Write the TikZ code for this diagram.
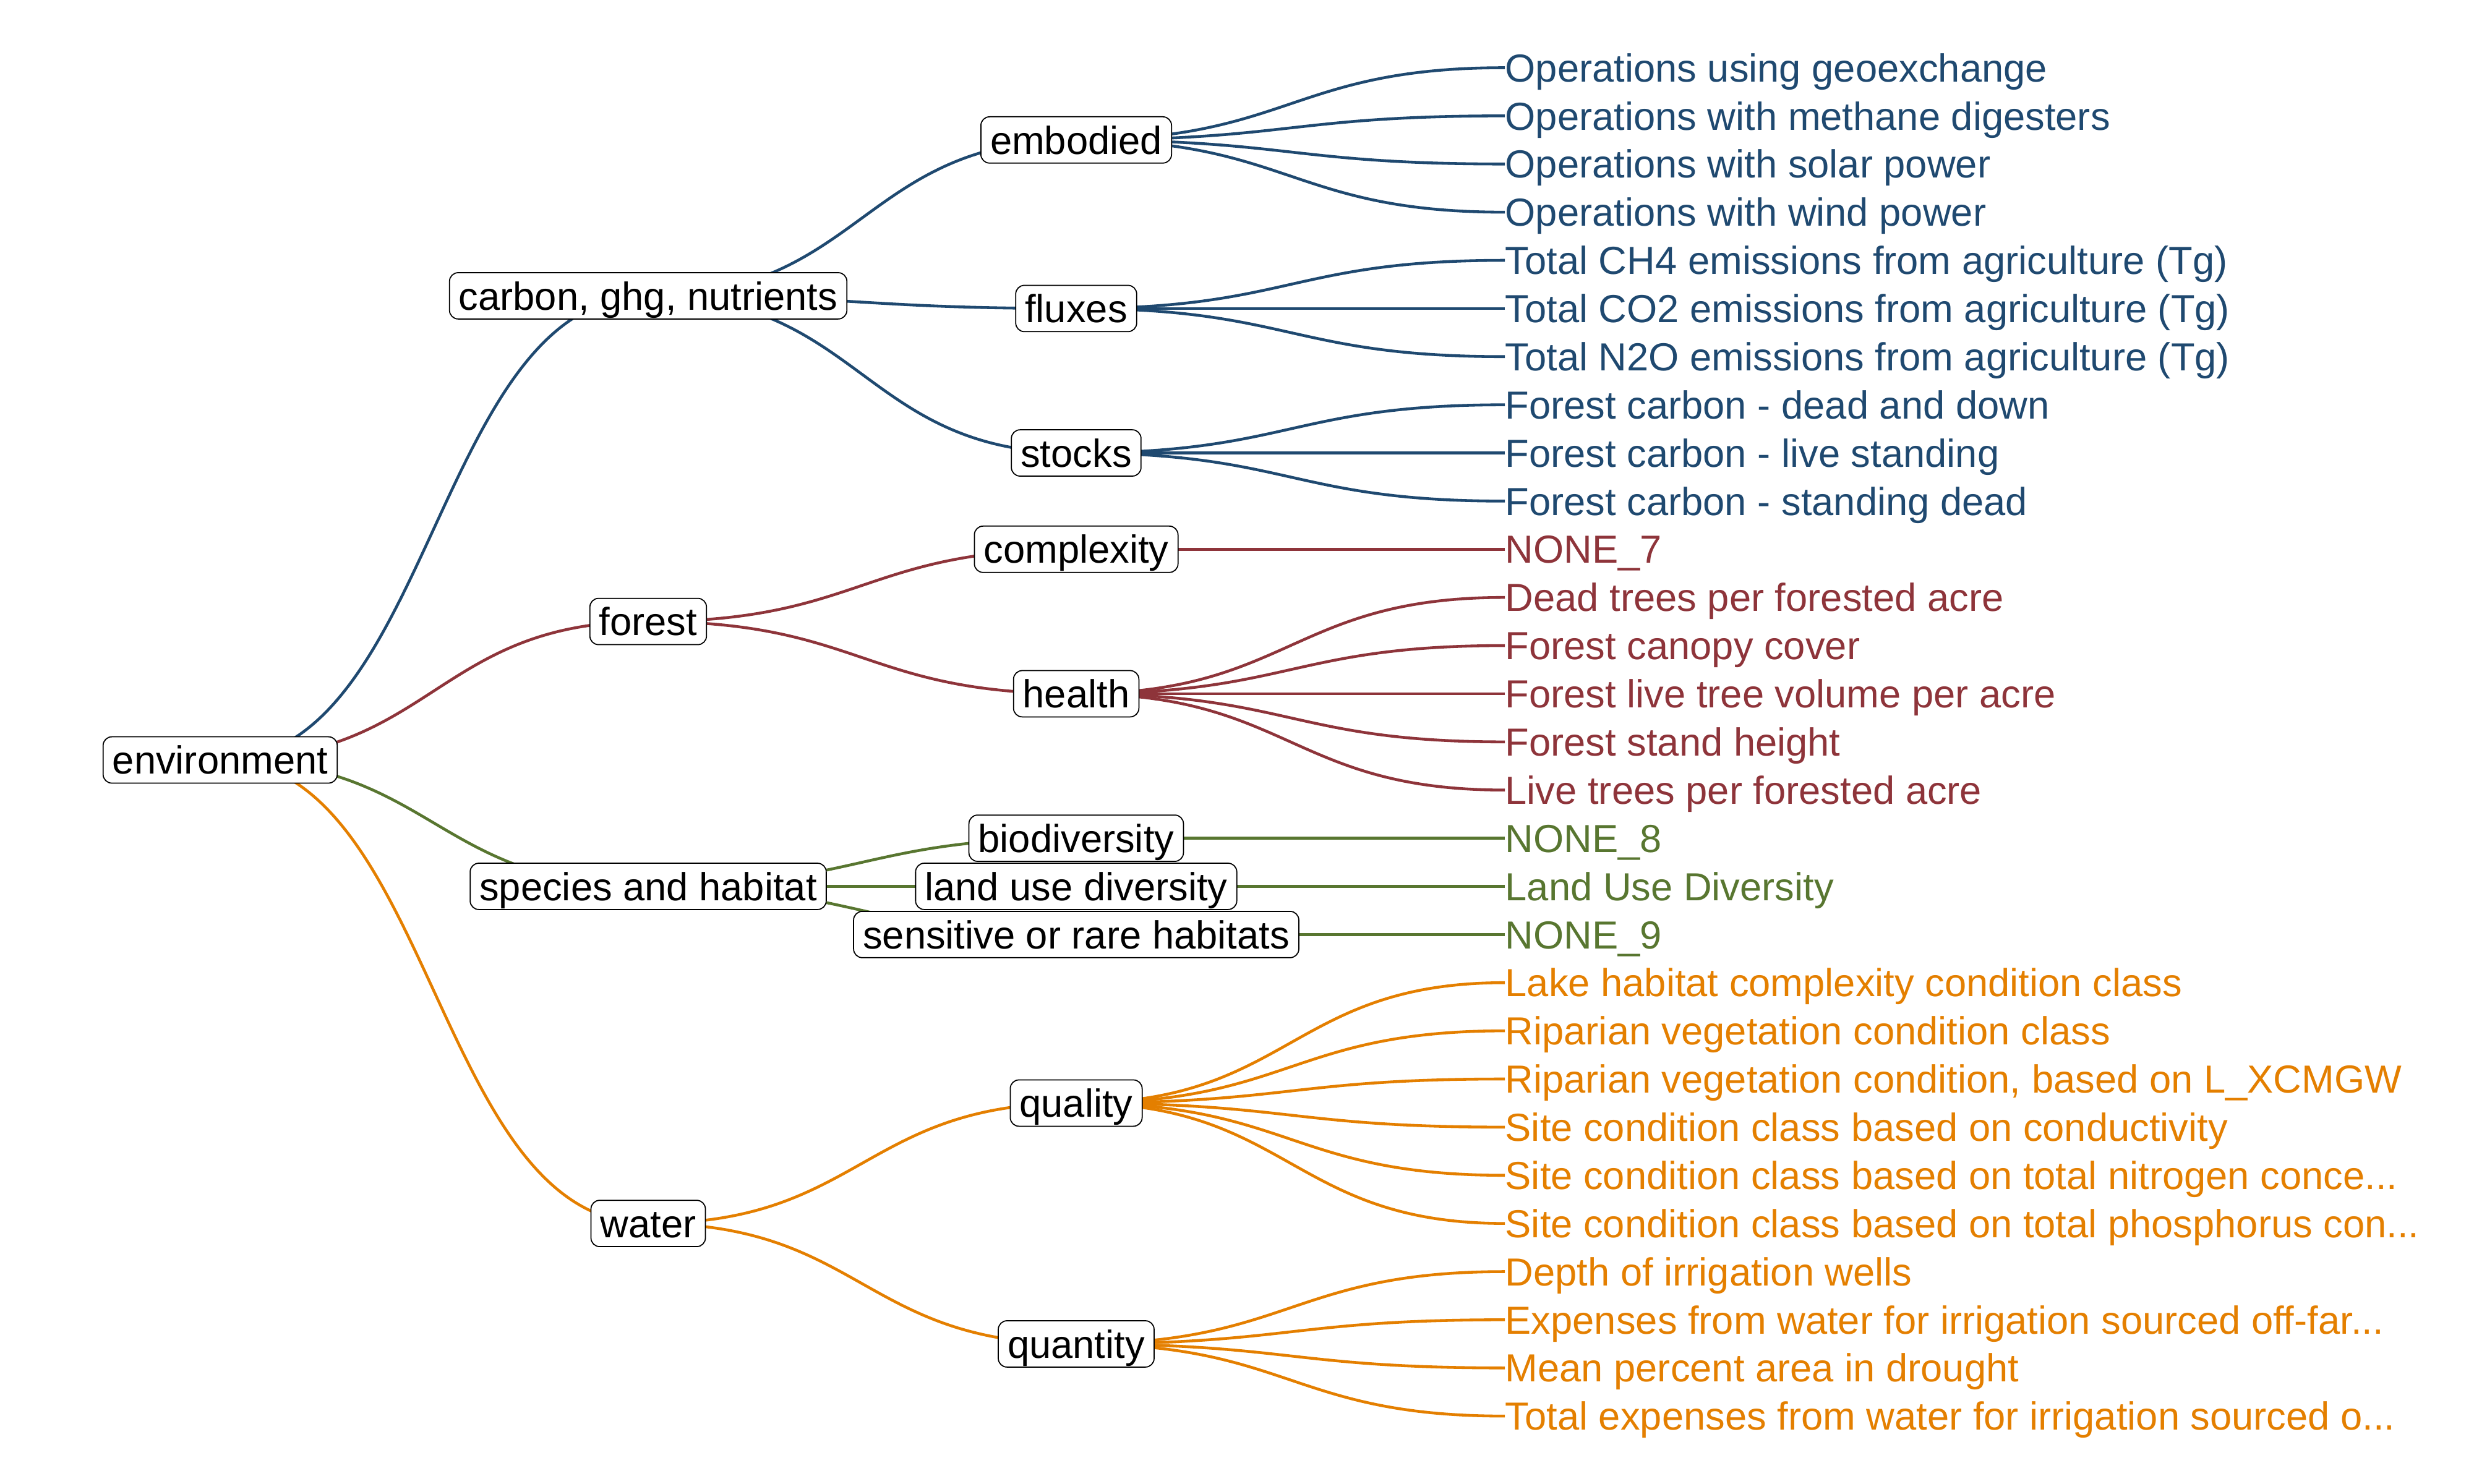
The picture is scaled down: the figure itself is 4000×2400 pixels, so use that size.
\documentclass[tikz,border=0pt]{standalone}
\usepackage{fontspec}
\setmainfont{Liberation Sans}
\pgfdeclarelayer{background}
\pgfsetlayers{background,main}
\definecolor{cblue}{RGB}{31,73,112}
\definecolor{cred}{RGB}{142,52,58}
\definecolor{cgreen}{RGB}{88,118,48}
\definecolor{corange}{RGB}{228,127,0}
\newcommand{\tedge}[3]{\draw[edgeline,#1] (#2.center) .. controls +(346,0) and +(-346,0) .. (#3);}
\tikzset{
  lbl/.style={font=\fontsize{18}{21}\selectfont},
  box/.style={lbl, draw=black, line width=0.5pt, fill=white, rounded corners=4pt,
    inner xsep=4.3pt, inner ysep=4.2pt, text height=12.9pt, text depth=0pt, text=black},
  leaf/.style={lbl, anchor=west, inner sep=0pt, text height=12.9pt, text depth=0pt},
  edgeline/.style={line width=1.3pt},
}
\begin{document}
\begin{tikzpicture}[x=0.01cm, y=-0.01cm]
\useasboundingbox (0,0) rectangle (4000,2400);
% leaves
\begin{scope}[every node/.append style={leaf}]
\node[text=cblue] (L0) at (2433,109.5) {Operations using geoexchange};
\node[text=cblue] (L1) at (2433,187.38) {Operations with methane digesters};
\node[text=cblue] (L2) at (2433,265.26) {Operations with solar power};
\node[text=cblue] (L3) at (2433,343.14) {Operations with wind power};
\node[text=cblue] (L4) at (2433,421.02) {Total CH4 emissions from agriculture (Tg)};
\node[text=cblue] (L5) at (2433,498.9) {Total CO2 emissions from agriculture (Tg)};
\node[text=cblue] (L6) at (2433,576.78) {Total N2O emissions from agriculture (Tg)};
\node[text=cblue] (L7) at (2433,654.66) {Forest carbon - dead and down};
\node[text=cblue] (L8) at (2433,732.54) {Forest carbon - live standing};
\node[text=cblue] (L9) at (2433,810.42) {Forest carbon - standing dead};
\node[text=cred] (L10) at (2433,888.3) {NONE\_7};
\node[text=cred] (L11) at (2433,966.18) {Dead trees per forested acre};
\node[text=cred] (L12) at (2433,1044.06) {Forest canopy cover};
\node[text=cred] (L13) at (2433,1121.94) {Forest live tree volume per acre};
\node[text=cred] (L14) at (2433,1199.82) {Forest stand height};
\node[text=cred] (L15) at (2433,1277.7) {Live trees per forested acre};
\node[text=cgreen] (L16) at (2433,1355.58) {NONE\_8};
\node[text=cgreen] (L17) at (2433,1433.46) {Land Use Diversity};
\node[text=cgreen] (L18) at (2433,1511.34) {NONE\_9};
\node[text=corange] (L19) at (2433,1589.22) {Lake habitat complexity condition class};
\node[text=corange] (L20) at (2433,1667.1) {Riparian vegetation condition class};
\node[text=corange] (L21) at (2433,1744.98) {Riparian vegetation condition, based on L\_XCMGW};
\node[text=corange] (L22) at (2433,1822.86) {Site condition class based on conductivity};
\node[text=corange] (L23) at (2433,1900.74) {Site condition class based on total nitrogen conce...};
\node[text=corange] (L24) at (2433,1978.62) {Site condition class based on total phosphorus con...};
\node[text=corange] (L25) at (2433,2056.5) {Depth of irrigation wells};
\node[text=corange] (L26) at (2433,2134.38) {Expenses from water for irrigation sourced off-far...};
\node[text=corange] (L27) at (2433,2212.26) {Mean percent area in drought};
\node[text=corange] (L28) at (2433,2290.14) {Total expenses from water for irrigation sourced o...};
\end{scope}
% level 2
\node[box] (emb) at (1740,226.32) {embodied};
\node[box] (flu) at (1740,498.9) {fluxes};
\node[box] (sto) at (1740,732.54) {stocks};
\node[box] (cpx) at (1740,888.3) {complexity};
\node[box] (hea) at (1740,1121.94) {health};
\node[box] (bio) at (1740,1355.58) {biodiversity};
\node[box] (lud) at (1740,1433.46) {land use diversity};
\node[box] (sen) at (1740,1511.34) {sensitive or rare habitats};
\node[box] (qual) at (1740,1783.92) {quality};
\node[box] (quan) at (1740,2173.44) {quantity};
% level 1
\node[box] (car) at (1048,478.43) {carbon, ghg, nutrients};
\node[box] (for) at (1048,1005.12) {forest};
\node[box] (spe) at (1048,1433.46) {species and habitat};
\node[box] (wat) at (1048,1978.62) {water};
% root
\node[box] (env) at (356,1229.03) {environment};
% edges
\begin{pgfonlayer}{background}
\tedge{cblue}{env}{car.center}
\tedge{cred}{env}{for.center}
\tedge{cgreen}{env}{spe.center}
\tedge{corange}{env}{wat.center}
\tedge{cblue}{car}{emb.center}
\tedge{cblue}{car}{flu.center}
\tedge{cblue}{car}{sto.center}
\tedge{cred}{for}{cpx.center}
\tedge{cred}{for}{hea.center}
\tedge{cgreen}{spe}{bio.center}
\tedge{cgreen}{spe}{lud.center}
\tedge{cgreen}{spe}{sen.center}
\tedge{corange}{wat}{qual.center}
\tedge{corange}{wat}{quan.center}
\tedge{cblue}{emb}{L0.west}
\tedge{cblue}{emb}{L1.west}
\tedge{cblue}{emb}{L2.west}
\tedge{cblue}{emb}{L3.west}
\tedge{cblue}{flu}{L4.west}
\tedge{cblue}{flu}{L5.west}
\tedge{cblue}{flu}{L6.west}
\tedge{cblue}{sto}{L7.west}
\tedge{cblue}{sto}{L8.west}
\tedge{cblue}{sto}{L9.west}
\tedge{cred}{cpx}{L10.west}
\tedge{cred}{hea}{L11.west}
\tedge{cred}{hea}{L12.west}
\tedge{cred}{hea}{L13.west}
\tedge{cred}{hea}{L14.west}
\tedge{cred}{hea}{L15.west}
\tedge{cgreen}{bio}{L16.west}
\tedge{cgreen}{lud}{L17.west}
\tedge{cgreen}{sen}{L18.west}
\tedge{corange}{qual}{L19.west}
\tedge{corange}{qual}{L20.west}
\tedge{corange}{qual}{L21.west}
\tedge{corange}{qual}{L22.west}
\tedge{corange}{qual}{L23.west}
\tedge{corange}{qual}{L24.west}
\tedge{corange}{quan}{L25.west}
\tedge{corange}{quan}{L26.west}
\tedge{corange}{quan}{L27.west}
\tedge{corange}{quan}{L28.west}
\end{pgfonlayer}
\end{tikzpicture}
\end{document}
